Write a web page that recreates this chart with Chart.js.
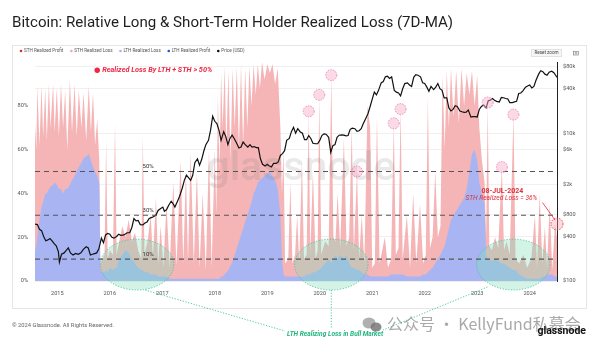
<!DOCTYPE html>
<html>
<head>
<meta charset="utf-8">
<script src="https://cdn.jsdelivr.net/npm/chart.js@4.4.1/dist/chart.umd.min.js"></script>
<style>
  html, body { margin: 0; padding: 0; background: #fff; }
  body { width: 600px; height: 346px; overflow: hidden; }
  #chart { position: absolute; left: 0; top: 0; }
</style>
</head>
<body>
<canvas id="chart" width="600" height="346"></canvas>
<script>
// ==============================
//  DATA
// ==============================
const yearTicks = [2015, 2016, 2017, 2018, 2019, 2020, 2021, 2022, 2023, 2024];
const pctTicks = [0, 20, 40, 60, 80];
const priceTicks = [100, 400, 800, 2000, 6000, 10000, 40000, 80000];
const priceTickLabels = ["$100", "$400", "$800", "$2k", "$6k", "$10k", "$40k", "$80k"];

const seriesNames = ["STH Realized Profit", "STH Realized Loss", "LTH Realized Loss", "LTH Realized Profit", "Price (USD)"];
const seriesColors = ["#d93036", "#f4a6ab", "#a3b2f3", "#3050d8", "#111111"];

// share of realized value (%), 7D-MA
const lossYears = [
    2014.575, 2014.60, 2014.62, 2014.66, 2014.70, 2014.73, 2014.77, 2014.80, 2014.84, 2014.87,
    2014.92, 2014.95, 2014.99, 2015.03, 2015.07, 2015.11, 2015.15, 2015.19, 2015.24, 2015.28,
    2015.33, 2015.37, 2015.41, 2015.46, 2015.50, 2015.55, 2015.60, 2015.64, 2015.68, 2015.72,
    2015.76, 2015.80, 2015.82, 2015.86, 2015.90, 2015.93, 2015.96, 2016.00, 2016.06, 2016.10,
    2016.13, 2016.18, 2016.24, 2016.30, 2016.36, 2016.42, 2016.48, 2016.54, 2016.60, 2016.63,
    2016.66, 2016.72, 2016.78, 2016.82, 2016.88, 2016.92, 2016.97, 2017.02, 2017.08, 2017.14,
    2017.21, 2017.27, 2017.35, 2017.40, 2017.45, 2017.49, 2017.54, 2017.60, 2017.66, 2017.71,
    2017.77, 2017.83, 2017.89, 2017.94, 2018.00, 2018.03, 2018.06, 2018.09, 2018.12, 2018.15,
    2018.19, 2018.22, 2018.26, 2018.30, 2018.34, 2018.38, 2018.42, 2018.46, 2018.50, 2018.54,
    2018.58, 2018.62, 2018.66, 2018.70, 2018.74, 2018.78, 2018.82, 2018.86, 2018.90, 2018.95,
    2019.00, 2019.05, 2019.10, 2019.15, 2019.20, 2019.25, 2019.28, 2019.31, 2019.34, 2019.40,
    2019.44, 2019.48, 2019.53, 2019.57, 2019.61, 2019.66, 2019.70, 2019.75, 2019.79, 2019.82,
    2019.87, 2019.92, 2019.96, 2019.99, 2020.03, 2020.10, 2020.17, 2020.22, 2020.26, 2020.30,
    2020.34, 2020.39, 2020.46, 2020.51, 2020.56, 2020.61, 2020.65, 2020.71, 2020.75, 2020.80,
    2020.85, 2020.91, 2020.96, 2021.00, 2021.05, 2021.09, 2021.14, 2021.24, 2021.30, 2021.36,
    2021.41, 2021.45, 2021.50, 2021.54, 2021.58, 2021.66, 2021.72, 2021.78, 2021.84, 2021.91,
    2021.97, 2022.02, 2022.06, 2022.10, 2022.15, 2022.20, 2022.25, 2022.30, 2022.34, 2022.38,
    2022.42, 2022.46, 2022.50, 2022.55, 2022.60, 2022.65, 2022.70, 2022.75, 2022.80, 2022.85,
    2022.90, 2022.95, 2023.00, 2023.04, 2023.09, 2023.14, 2023.17, 2023.20, 2023.23, 2023.28,
    2023.34, 2023.40, 2023.47, 2023.51, 2023.56, 2023.62, 2023.69, 2023.73, 2023.80, 2023.88,
    2023.95, 2024.03, 2024.10, 2024.14, 2024.19, 2024.24, 2024.29, 2024.33, 2024.38, 2024.43,
    2024.48, 2024.52
];
const lthLoss = [
    14, 16, 20, 28, 34, 36, 40, 40, 42, 43,
    44, 45, 44, 42, 42, 40, 42, 42, 44, 46,
    48, 50, 52, 54, 56, 57, 58, 55, 52, 50,
    48, 45, 5, 4, 4, 5, 4, 6, 5, 6,
    6, 10, 12, 14, 13, 10, 8, 6, 5, 5,
    4, 4, 3, 3, 3, 2, 2, 2, 2, 1,
    1, 1, 1, 1, 1, 1, 1, 1, 1, 1,
    1, 1, 1, 1, 1, 1, 1, 1, 2, 2,
    3, 4, 5, 7, 9, 12, 15, 18, 21, 24,
    27, 30, 33, 36, 40, 42, 45, 46, 47, 48,
    49, 50, 48, 46, 42, 30, 10, 3, 2, 2,
    2, 2, 2, 2, 2, 2, 2, 3, 3, 3,
    4, 4, 5, 5, 6, 8, 10, 8, 10, 12,
    10, 12, 10, 12, 8, 6, 6, 5, 5, 4,
    3, 3, 2, 2, 2, 2, 2, 2, 2, 3,
    3, 3, 3, 3, 3, 2, 2, 2, 2, 2,
    3, 3, 4, 5, 6, 8, 10, 12, 14, 16,
    20, 24, 28, 30, 32, 34, 36, 38, 42, 50,
    58, 60, 55, 45, 40, 35, 12, 10, 10, 9,
    10, 9, 8, 8, 7, 6, 5, 5, 3, 2,
    1, 1, 1, 1, 1, 2, 2, 3, 3, 3,
    2, 2
];
const sthLoss = [
    58, 44, 69, 34, 55, 30, 48, 24, 48, 27,
    46, 23, 44, 24, 48, 30, 45, 18, 48, 22,
    42, 16, 35, 16, 30, 7, 31, 13, 34, 12,
    26, 10, 3, 6, 8, 59, 6, 8, 7, 66,
    6, 8, 13, 6, 15, 8, 14, 8, 5, 61,
    8, 14, 27, 7, 35, 6, 23, 4, 33, 5,
    44, 6, 54, 7, 49, 8, 58, 7, 49, 5,
    39, 4, 59, 5, 59, 29, 84, 49, 93, 68,
    95, 56, 91, 48, 88, 58, 83, 42, 78, 38,
    70, 40, 65, 44, 59, 43, 54, 42, 53, 44,
    50, 45, 51, 44, 55, 40, 30, 57, 6, 8,
    43, 6, 10, 28, 6, 53, 8, 9, 74, 9,
    46, 6, 9, 80, 6, 10, 6, 86, 10, 6,
    30, 3, 55, 4, 12, 64, 8, 45, 5, 26,
    5, 77, 68, 4, 6, 73, 6, 18, 4, 7,
    69, 9, 12, 76, 7, 28, 4, 38, 6, 33,
    5, 9, 80, 10, 14, 42, 10, 13, 80, 44,
    76, 46, 69, 45, 64, 38, 61, 42, 53, 35,
    38, 20, 39, 25, 15, 10, 8, 71, 6, 5,
    10, 6, 44, 6, 11, 6, 71, 5, 5, 10,
    5, 9, 29, 5, 39, 6, 23, 3, 32, 2,
    24, 18
];

// BTC price (USD)
const priceYears = [
    2014.575, 2014.62, 2014.66, 2014.70, 2014.74, 2014.78, 2014.82, 2014.86, 2014.90, 2014.94,
    2014.98, 2015.02, 2015.04, 2015.08, 2015.13, 2015.17, 2015.21, 2015.25, 2015.30, 2015.35,
    2015.40, 2015.45, 2015.50, 2015.55, 2015.59, 2015.63, 2015.67, 2015.71, 2015.75, 2015.79,
    2015.84, 2015.88, 2015.92, 2015.96, 2016.00, 2016.04, 2016.08, 2016.13, 2016.17, 2016.21,
    2016.27, 2016.33, 2016.38, 2016.42, 2016.46, 2016.50, 2016.54, 2016.58, 2016.63, 2016.67,
    2016.71, 2016.75, 2016.79, 2016.83, 2016.88, 2016.92, 2016.97, 2017.01, 2017.04, 2017.08,
    2017.12, 2017.17, 2017.21, 2017.24, 2017.29, 2017.33, 2017.38, 2017.42, 2017.46, 2017.50,
    2017.54, 2017.58, 2017.62, 2017.67, 2017.71, 2017.75, 2017.79, 2017.83, 2017.88, 2017.92,
    2017.96, 2018.00, 2018.04, 2018.08, 2018.12, 2018.17, 2018.21, 2018.25, 2018.29, 2018.33,
    2018.37, 2018.41, 2018.46, 2018.50, 2018.54, 2018.58, 2018.63, 2018.67, 2018.71, 2018.75,
    2018.79, 2018.83, 2018.87, 2018.91, 2018.96, 2019.00, 2019.04, 2019.08, 2019.12, 2019.17,
    2019.21, 2019.25, 2019.29, 2019.33, 2019.37, 2019.42, 2019.46, 2019.50, 2019.54, 2019.58,
    2019.63, 2019.67, 2019.71, 2019.75, 2019.79, 2019.83, 2019.87, 2019.92, 2019.96, 2020.00,
    2020.04, 2020.08, 2020.12, 2020.17, 2020.21, 2020.25, 2020.29, 2020.33, 2020.37, 2020.42,
    2020.46, 2020.50, 2020.54, 2020.58, 2020.62, 2020.67, 2020.71, 2020.75, 2020.79, 2020.83,
    2020.87, 2020.92, 2020.96, 2021.00, 2021.04, 2021.08, 2021.12, 2021.17, 2021.21, 2021.25,
    2021.29, 2021.33, 2021.37, 2021.42, 2021.46, 2021.50, 2021.54, 2021.58, 2021.62, 2021.67,
    2021.71, 2021.75, 2021.79, 2021.83, 2021.87, 2021.92, 2021.96, 2022.00, 2022.04, 2022.08,
    2022.12, 2022.17, 2022.21, 2022.25, 2022.29, 2022.33, 2022.37, 2022.42, 2022.46, 2022.50,
    2022.54, 2022.58, 2022.62, 2022.67, 2022.71, 2022.75, 2022.79, 2022.83, 2022.88, 2022.92,
    2022.96, 2023.00, 2023.04, 2023.08, 2023.12, 2023.17, 2023.21, 2023.25, 2023.29, 2023.33,
    2023.37, 2023.42, 2023.46, 2023.50, 2023.54, 2023.58, 2023.62, 2023.67, 2023.71, 2023.75,
    2023.79, 2023.83, 2023.87, 2023.92, 2023.96, 2024.00, 2024.04, 2024.08, 2024.12, 2024.17,
    2024.21, 2024.25, 2024.29, 2024.33, 2024.37, 2024.42, 2024.46, 2024.50, 2024.52
];
const priceUsd = [
    590, 580, 500, 480, 400, 350, 360, 375, 350, 320,
    300, 250, 180, 230, 240, 260, 280, 240, 225, 236,
    230, 240, 270, 290, 280, 225, 230, 235, 240, 270,
    380, 330, 420, 440, 430, 390, 380, 400, 430, 415,
    420, 450, 450, 530, 700, 650, 660, 580, 575, 610,
    630, 700, 720, 740, 780, 900, 960, 1000, 880, 920,
    1050, 1200, 1100, 1000, 1200, 1400, 1800, 2300, 2700, 2500,
    2300, 2700, 4000, 4500, 3700, 4400, 5700, 7000, 8000, 11000,
    17000, 14500, 13500, 11000, 8000, 10500, 9000, 7000, 8500, 9400,
    8500, 7500, 6300, 6500, 7600, 7000, 6500, 7000, 6500, 6600,
    6400, 6400, 4500, 3800, 3600, 3800, 3600, 3500, 3900, 3900,
    4100, 5000, 5300, 5800, 8000, 8500, 10500, 12000, 10000, 11500,
    10400, 10000, 8200, 8200, 9300, 8500, 7300, 7200, 7200, 8000,
    9300, 9800, 9700, 8800, 5500, 6800, 7000, 8800, 9400, 9500,
    9400, 9200, 9300, 11300, 11700, 11500, 10600, 10800, 11500, 13500,
    15500, 18500, 23000, 29000, 36000, 33000, 38000, 48000, 50000, 58000,
    59000, 55000, 58000, 38000, 36000, 35000, 32000, 40000, 47000, 48000,
    45000, 43000, 57000, 62000, 61000, 58000, 48000, 47000, 42000, 37000,
    43000, 39000, 42000, 47000, 40000, 38000, 30000, 30000, 22000, 20000,
    21000, 23500, 23000, 20000, 19500, 19200, 19300, 20600, 16500, 16800,
    16800, 16600, 21000, 23000, 24000, 22000, 27500, 28000, 29500, 28000,
    27000, 26500, 30500, 30200, 29500, 29200, 26000, 26000, 26500, 27000,
    34500, 35000, 37500, 42000, 43500, 45000, 41000, 43000, 52000, 63000,
    70000, 68000, 63000, 61000, 67000, 69000, 66000, 60000, 57000
];

// reference levels and highlighted spikes
const thresholdPcts = [50, 30, 10];
const peakYears = [2019.79, 2019.99, 2020.22, 2020.71, 2021.41, 2021.54, 2023.20, 2023.47, 2023.69];
const peakPcts = [77.5, 85, 94, 50, 72, 78.5, 81.5, 52, 76];
const latestYear = 2024.52;
const latestPct = 26;
const bullYears = [2016.52, 2020.22, 2023.69];

// ==============================
//  OVERLAYS (titles, notes, marks)
// ==============================
function dashedCircle(ctx, x, y, r, fill, stroke) {
    ctx.beginPath();
    ctx.arc(x, y, r, 0, Math.PI * 2);
    ctx.fillStyle = fill;
    ctx.fill();
    ctx.setLineDash([1.5, 1.2]);
    ctx.lineWidth = 0.8;
    ctx.strokeStyle = stroke;
    ctx.stroke();
    ctx.setLineDash([]);
}

const overlay = {
    id: "overlay",
    beforeDraw(chart) {
        const ctx = chart.ctx;
        ctx.save();
        ctx.fillStyle = "#fff";
        ctx.fillRect(0, 0, chart.width, chart.height);

        ctx.fillStyle = "#1f1f1f";
        ctx.font = "15.1px Roboto";
        ctx.textBaseline = "middle";
        ctx.fillText("Bitcoin: Relative Long & Short-Term Holder Realized Loss (7D-MA)", 12, 23);

        // card
        ctx.strokeStyle = "#e6e6e6";
        ctx.lineWidth = 1;
        ctx.strokeRect(12.5, 45.5, 574, 263);

        // legend
        ctx.font = "4.6px Roboto";
        let lx = 21;
        seriesNames.forEach((name, i) => {
            ctx.beginPath();
            ctx.arc(lx, 51, 1.3, 0, Math.PI * 2);
            ctx.fillStyle = seriesColors[i];
            ctx.fill();
            ctx.fillStyle = "#555";
            ctx.fillText(name, lx + 3, 51);
            lx += 3 + ctx.measureText(name).width + 8;
        });

        // reset zoom button + camera icon
        ctx.fillStyle = "#f6f6f6";
        ctx.fillRect(531, 49.5, 31, 7);
        ctx.strokeStyle = "#e2e2e2";
        ctx.strokeRect(531.5, 49.5, 30, 7);
        ctx.fillStyle = "#444";
        ctx.textAlign = "center";
        ctx.fillText("Reset zoom", 546.5, 53.2);
        ctx.strokeStyle = "#777";
        ctx.lineWidth = 0.6;
        ctx.strokeRect(573.5, 51.5, 5, 3.5);
        ctx.beginPath();
        ctx.arc(576, 53.2, 1, 0, Math.PI * 2);
        ctx.stroke();
        ctx.textAlign = "left";

        // footer
        ctx.fillStyle = "#666";
        ctx.font = "5.8px Roboto";
        ctx.fillText("\u00a9 2024 Glassnode. All Rights Reserved.", 12, 326);
        ctx.restore();
    },
    afterDatasetsDraw(chart) {
        const ctx = chart.ctx;
        const xs = chart.scales.x, ys = chart.scales.y;
        const area = chart.chartArea;
        const px = v => xs.getPixelForValue(v);
        const py = v => ys.getPixelForValue(v);
        ctx.save();

        // watermark
        ctx.fillStyle = "rgba(120,120,120,0.16)";
        ctx.font = "500 41px Roboto";
        ctx.textAlign = "center";
        ctx.textBaseline = "middle";
        ctx.fillText("glassnode", 301, 170);

        // bull-market ellipses
        const rx = px(2015.7) - px(2015);
        const ry = py(0) - py(11.6);
        bullYears.forEach(yr => {
            ctx.beginPath();
            ctx.ellipse(px(yr), py(7.5), rx, ry, 0, 0, Math.PI * 2);
            ctx.fillStyle = "rgba(130,222,185,0.35)";
            ctx.fill();
            ctx.setLineDash([1.2, 1.6]);
            ctx.lineWidth = 0.9;
            ctx.strokeStyle = "#3cc49a";
            ctx.stroke();
        });

        // connectors to the bull-market note
        const noteX = 335, noteY = 334;
        ctx.beginPath();
        ctx.moveTo(px(bullYears[0]) + 8, py(7.5) + ry);
        ctx.lineTo(noteX - 50, noteY - 3);
        ctx.moveTo(px(bullYears[1]), py(7.5) + ry);
        ctx.lineTo(px(bullYears[1]), noteY - 5);
        ctx.moveTo(px(bullYears[2]) - 26, py(7.5) + ry - 3);
        ctx.lineTo(noteX + 48, noteY - 4);
        ctx.stroke();
        ctx.setLineDash([]);
        ctx.fillStyle = "#22b57f";
        ctx.font = "italic bold 6.6px Roboto";
        ctx.fillText("LTH Realizing Loss in Bull Market", noteX, noteY);

        // threshold lines
        ctx.strokeStyle = "#555";
        ctx.lineWidth = 1.1;
        ctx.setLineDash([5, 4]);
        thresholdPcts.forEach(v => {
            ctx.beginPath();
            ctx.moveTo(area.left, py(v));
            ctx.lineTo(area.right, py(v));
            ctx.stroke();
        });
        ctx.setLineDash([]);
        ctx.fillStyle = "#333";
        ctx.font = "6px Roboto";
        thresholdPcts.forEach(v => ctx.fillText(v + "%", px(2016.73), py(v) - 5));

        // highlighted spikes
        peakYears.forEach((yr, i) =>
            dashedCircle(ctx, px(yr), py(peakPcts[i]), 5.5, "rgba(248,170,200,0.45)", "#e77aa3"));

        // latest reading
        const lx = px(latestYear), ly = py(latestPct);
        dashedCircle(ctx, lx, ly, 6, "rgba(245,150,160,0.35)", "#e0303c");
        ctx.strokeStyle = "#e0303c";
        ctx.lineWidth = 0.8;
        ctx.beginPath();
        ctx.moveTo(lx - 14.5, ly - 21.5);
        ctx.lineTo(lx - 2, ly - 4);
        ctx.stroke();
        ctx.fillStyle = "#e0303c";
        ctx.font = "bold 7px Roboto";
        ctx.fillText("08-JUL-2024", px(2023.48), py(41.2));
        ctx.font = "italic 6.6px Roboto";
        ctx.fillText("STH Realized Loss = 36%", px(2023.46), py(37.8));

        // headline note
        ctx.beginPath();
        ctx.arc(px(2015.76), py(96.2), 2.7, 0, Math.PI * 2);
        ctx.fillStyle = "#ee2745";
        ctx.fill();
        ctx.textAlign = "left";
        ctx.font = "italic bold 7.3px Roboto";
        ctx.fillText("Realized Loss By LTH + STH > 50%", px(2015.76) + 5, py(96.2));

        ctx.restore();
    },
    afterDraw(chart) {
        const ctx = chart.ctx;
        ctx.save();
        ctx.textBaseline = "middle";
        // channel watermark
        ctx.fillStyle = "rgba(150,150,150,0.75)";
        ctx.beginPath();
        ctx.ellipse(369, 323, 6.5, 5.5, 0, 0, Math.PI * 2);
        ctx.fill();
        ctx.beginPath();
        ctx.ellipse(376, 327, 5.5, 4.5, 0, 0, Math.PI * 2);
        ctx.fillStyle = "rgba(120,120,120,0.85)";
        ctx.fill();
        ctx.fillStyle = "rgba(140,140,140,0.75)";
        ctx.font = "16px 'Noto Sans CJK SC'";
        ctx.fillText("公众号 · KellyFund私募会", 387, 324);
        // logo
        ctx.fillStyle = "#111";
        ctx.font = "bold 10.5px Roboto";
        ctx.textAlign = "right";
        ctx.fillText("glassnode", 586, 331);
        ctx.restore();
    }
};

// ==============================
//  CHART
// ==============================
const lossTotal = lthLoss.map((v, i) => v + sthLoss[i]);

new Chart(document.getElementById("chart"), {
    type: "line",
    data: {
        datasets: [
            {
                label: "Price (USD)",
                data: priceYears.map((x, i) => ({ x, y: priceUsd[i] })),
                yAxisID: "price",
                borderColor: "#111",
                borderWidth: 1.2,
                pointRadius: 0,
                fill: false,
                order: 0
            },
            {
                label: "LTH Realized Loss",
                data: lossYears.map((x, i) => ({ x, y: lthLoss[i] })),
                yAxisID: "y",
                backgroundColor: "#a8b5f2",
                borderColor: "transparent",
                borderWidth: 0,
                pointRadius: 0,
                fill: "origin",
                order: 1
            },
            {
                label: "STH Realized Loss",
                data: lossYears.map((x, i) => ({ x, y: lossTotal[i] })),
                yAxisID: "y",
                backgroundColor: "#f5b5b7",
                borderColor: "transparent",
                borderWidth: 0,
                pointRadius: 0,
                fill: "origin",
                order: 2
            }
        ]
    },
    options: {
        responsive: false,
        animation: false,
        devicePixelRatio: 1,
        layout: { padding: { left: 12, right: 14, top: 62, bottom: 50 } },
        elements: { line: { tension: 0 } },
        plugins: { legend: { display: false }, tooltip: { enabled: false } },
        scales: {
            x: {
                type: "linear",
                min: 2014.575,
                max: 2024.52,
                grid: { display: false, drawTicks: false },
                border: { display: false },
                afterFit: s => { s.height = 15; },
                afterBuildTicks: s => { s.ticks = yearTicks.map(v => ({ value: v })); },
                ticks: {
                    autoSkip: false,
                    maxRotation: 0,
                    padding: 9,
                    color: "#555",
                    font: { family: "Roboto", size: 5.6 },
                    callback: v => String(v)
                }
            },
            y: {
                position: "left",
                min: 0,
                max: 100,
                grid: { display: false, drawTicks: false },
                border: { display: false },
                afterFit: s => { s.width = 23; },
                afterBuildTicks: s => { s.ticks = pctTicks.map(v => ({ value: v })); },
                ticks: {
                    padding: 7,
                    color: "#555",
                    font: { family: "Roboto", size: 5.6 },
                    callback: v => v + "%"
                }
            },
            price: {
                type: "logarithmic",
                position: "right",
                min: 100,
                max: 92000,
                grid: { color: "#ececec", lineWidth: 0.8, drawTicks: false },
                border: { display: true, color: "#222", width: 1 },
                afterFit: s => { s.width = 29; },
                afterBuildTicks: s => { s.ticks = priceTicks.map(v => ({ value: v })); },
                ticks: {
                    padding: 6,
                    color: "#555",
                    font: { family: "Roboto", size: 5.6 },
                    callback: v => priceTickLabels[priceTicks.indexOf(v)]
                }
            }
        }
    },
    plugins: [overlay]
});
</script>
</body>
</html>
